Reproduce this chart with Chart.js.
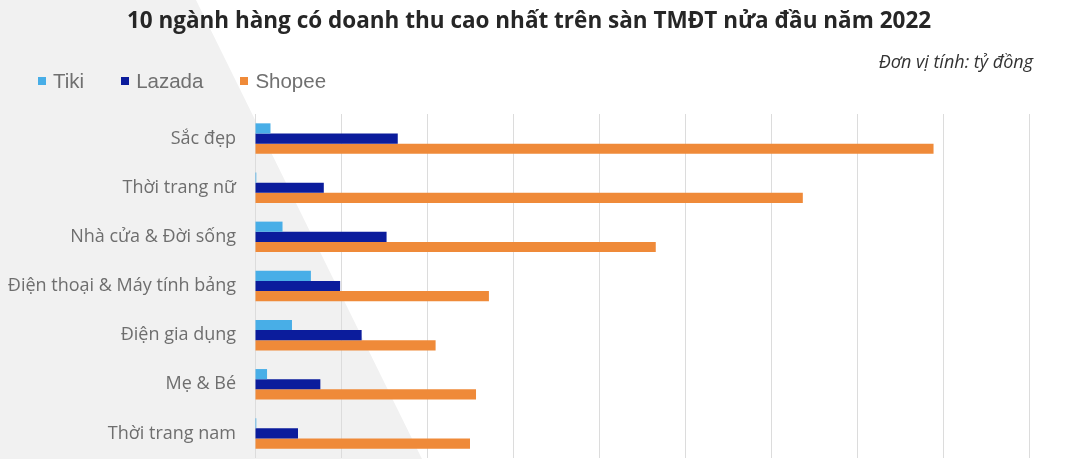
<!DOCTYPE html>
<html lang="vi">
<head>
<meta charset="utf-8">
<title>Doanh thu TMĐT nửa đầu năm 2022</title>
<script src="https://cdn.jsdelivr.net/npm/chart.js@4.4.1/dist/chart.umd.min.js"></script>
<style>
    html, body { margin: 0; padding: 0; background: #ffffff; }
    #wrap { position: relative; width: 1080px; height: 459px; overflow: hidden; }
    #shade {
        position: absolute; left: 0; top: 0; width: 1080px; height: 459px;
        background: #f1f1f1;
        clip-path: polygon(0 0, 196px 0, 422px 459px, 0 459px);
    }
    #chart-box { position: absolute; left: 0; top: 0; width: 1080px; height: 459px; }
    #title {
        position: absolute; left: 0; width: 1058px; top: 4px; text-align: center;
        font-family: "Open Sans", sans-serif; font-weight: 700; font-size: 22.5px; color: #262626;
    }
    #unit {
        position: absolute; right: 47px; top: 49px;
        font-family: "Open Sans", sans-serif; font-style: italic; font-size: 18px; color: #333333;
    }
    #legend {
        position: absolute; left: 38px; top: 69px; display: flex; gap: 37px;
        font-family: "Liberation Sans", Arial, sans-serif; font-size: 20.5px; color: #707070;
    }
    #legend span.item { display: flex; align-items: center; }
    #legend span.swatch { display: inline-block; width: 8px; height: 8px; margin-right: 7px; }
</style>
</head>
<body>
<div id="wrap">
    <div id="shade"></div>
    <div id="chart-box"><canvas id="revenue-chart"></canvas></div>
    <div id="title">10 ngành hàng có doanh thu cao nhất trên sàn TMĐT nửa đầu năm 2022</div>
    <div id="unit">Đơn vị tính: tỷ đồng</div>
    <div id="legend"></div>
</div>
<script>
// Categories (top to bottom) and revenue per platform, in tỷ đồng
const categories = [
    'Sắc đẹp',
    'Thời trang nữ',
    'Nhà cửa & Đời sống',
    'Điện thoại & Máy tính bảng',
    'Điện gia dụng',
    'Mẹ & Bé',
    'Thời trang nam'
];
const tikiValues   = [180, 15, 320, 650, 430, 140, 15];
const lazadaValues = [1660, 800, 1530, 990, 1240, 760, 500];
const shopeeValues = [7890, 6370, 4660, 2720, 2100, 2570, 2500];

const seriesNames  = ['Tiki', 'Lazada', 'Shopee'];
const seriesColors = ['#48aee7', '#0b1c9c', '#ef8a39'];

// x axis: 0 .. 9000, a gridline every 1000 (tick labels are cut off in the picture)
const xMax = 9000;
const xStep = 1000;

document.addEventListener('DOMContentLoaded', () => {
    const seriesValues = [tikiValues, lazadaValues, shopeeValues];

    const datasets = seriesNames.map((name, i) => ({
        label: name,
        data: seriesValues[i],
        backgroundColor: seriesColors[i],
        borderWidth: 0,
        barPercentage: 1.0,
        categoryPercentage: 0.62
    }));

    // Legend as plain HTML, built from the same series
    const legendElement = document.getElementById('legend');
    seriesNames.forEach((name, i) => {
        const item = document.createElement('span');
        item.className = 'item';
        item.innerHTML = `<span class="swatch" style="background:${seriesColors[i]}"></span>${name}`;
        legendElement.appendChild(item);
    });

    const ctx = document.getElementById('revenue-chart').getContext('2d');
    new Chart(ctx, {
        type: 'bar',
        data: { labels: categories, datasets: datasets },
        options: {
            indexAxis: 'y',
            responsive: true,
            maintainAspectRatio: false,
            animation: false,
            layout: { padding: { top: 114, right: 51, bottom: 1, left: 0 } },
            scales: {
                x: {
                    min: 0,
                    max: xMax,
                    ticks: { display: false, stepSize: xStep },
                    grid: { color: '#dcdcdc', lineWidth: 1, drawTicks: false },
                    border: { display: false },
                    afterFit: (scale) => { scale.height = 0; }
                },
                y: {
                    ticks: {
                        padding: 19,
                        color: '#6e6e6e',
                        font: { family: '"Open Sans", sans-serif', size: 18 }
                    },
                    grid: { display: false, drawTicks: false },
                    border: { display: false },
                    afterFit: (scale) => {
                        // fixed label column; the plot runs down to the bottom edge (cropped)
                        scale.width = 255;
                        scale.paddingTop = 0;
                        scale.paddingBottom = 0;
                    }
                }
            },
            plugins: {
                legend: { display: false },
                title: { display: false },
                tooltip: { enabled: false }
            }
        }
    });
});
</script>
</body>
</html>
